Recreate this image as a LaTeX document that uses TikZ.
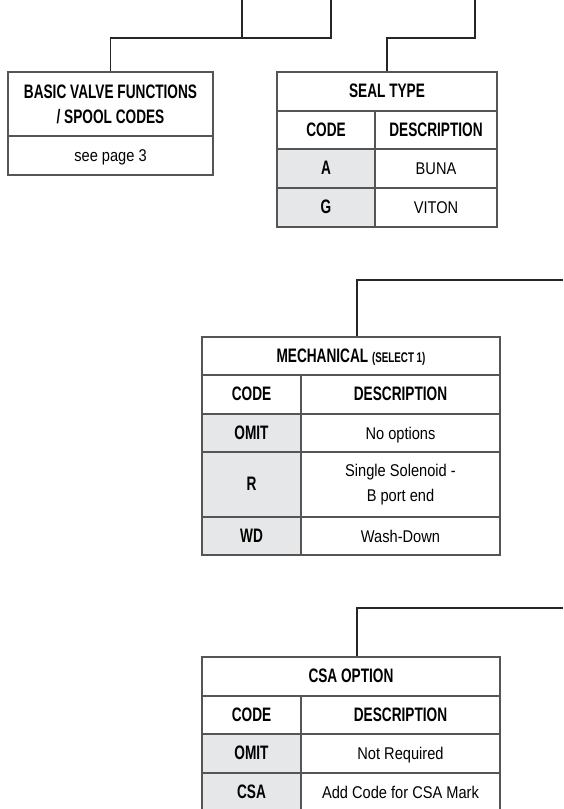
\documentclass[tikz,border=0pt]{standalone}
\usepackage{fontspec}
\setmainfont{Liberation Sans}[FakeStretch=0.86]
\newfontfamily\hdfont{Liberation Sans}[FakeStretch=0.70]
\definecolor{codegray}{HTML}{E6E7E8}
\definecolor{rulegray}{HTML}{555555}
\begin{document}
\begin{tikzpicture}[x=1pt,y=1pt,
  cell/.style={draw=rulegray, line width=1.1pt, inner sep=0pt, align=center, text height=12.5pt, text depth=0pt, font=\fontsize{17}{25}\selectfont},
  head/.style={cell, font=\hdfont\bfseries\fontsize{19.5}{25}\selectfont},
  codecell/.style={head, fill=codegray},
  twolines/.style={text height=, text depth=},
  wire/.style={draw=black!85, line width=1.1pt}]
\useasboundingbox (0,0) rectangle (563,-809);

% basic valve functions
\node[head, twolines, minimum width=205pt, minimum height=64pt] (basic) at (110.5,-104) {BASIC VALVE FUNCTIONS\\/ SPOOL CODES};
\node[cell, minimum width=205pt, minimum height=39pt] (basicref) at (110.5,-155.5) {see page 3};

% seal type
\node[head, minimum width=220pt, minimum height=39pt] (seal) at (387,-91.5) {SEAL TYPE};
\node[head, minimum width=98pt, minimum height=38pt] (sealcode) at (326,-130) {CODE};
\node[head, minimum width=122pt, minimum height=38pt] (sealdesc) at (436,-130) {DESCRIPTION};
\node[codecell, minimum width=98pt, minimum height=39pt] (sealA) at (326,-168.5) {A};
\node[cell, minimum width=122pt, minimum height=39pt] (sealAd) at (436,-168.5) {BUNA};
\node[codecell, minimum width=98pt, minimum height=39pt] (sealG) at (326,-207.5) {G};
\node[cell, minimum width=122pt, minimum height=39pt] (sealGd) at (436,-207.5) {VITON};

% mechanical
\node[head, minimum width=298pt, minimum height=38pt] (mech) at (351,-356) {MECHANICAL {\fontsize{14}{16}\selectfont(SELECT 1)}};
\node[head, minimum width=99pt, minimum height=39pt] (mechcode) at (251.5,-394.5) {CODE};
\node[head, minimum width=199pt, minimum height=39pt] (mechdesc) at (400.5,-394.5) {DESCRIPTION};
\node[codecell, minimum width=99pt, minimum height=38pt] (mechO) at (251.5,-433) {OMIT};
\node[cell, minimum width=199pt, minimum height=38pt] (mechOd) at (400.5,-433) {No options};
\node[codecell, minimum width=99pt, minimum height=65pt] (mechR) at (251.5,-484.5) {R};
\node[cell, twolines, minimum width=199pt, minimum height=65pt] (mechRd) at (400.5,-484.5) {Single Solenoid -\\B port end};
\node[codecell, minimum width=99pt, minimum height=38pt] (mechW) at (251.5,-536) {WD};
\node[cell, minimum width=199pt, minimum height=38pt] (mechWd) at (400.5,-536) {Wash-Down};

% csa option
\node[head, minimum width=298pt, minimum height=39pt] (csa) at (351,-676.5) {CSA OPTION};
\node[head, minimum width=99pt, minimum height=38pt] (csacode) at (251.5,-715) {CODE};
\node[head, minimum width=199pt, minimum height=38pt] (csadesc) at (400.5,-715) {DESCRIPTION};
\node[codecell, minimum width=99pt, minimum height=39pt] (csaO) at (251.5,-753.5) {OMIT};
\node[cell, minimum width=199pt, minimum height=39pt] (csaOd) at (400.5,-753.5) {Not Required};
\node[codecell, minimum width=99pt, minimum height=39pt] (csaC) at (251.5,-792.5) {CSA};
\node[cell, minimum width=199pt, minimum height=39pt] (csaCd) at (400.5,-792.5) {Add Code for CSA Mark};

% connectors
\coordinate (t1) at (242,0);
\coordinate (t2) at (331,0);
\coordinate (t3) at (475,0);
\coordinate (j1) at (242,-38);
\coordinate (j2) at (331,-38);
\coordinate (j3) at (475,-38);
\coordinate (m1) at (563,-280);
\coordinate (m2) at (357,-280);
\coordinate (c1) at (563,-608);
\coordinate (c2) at (357,-608);

\draw[wire] (t1) -- (j1);
\draw[wire] (t2) -- (j2) -- (basic.north |- j2) -- (basic.north);
\draw[wire] (t3) -- (j3) -- (seal.north |- j3) -- (seal.north);
\draw[wire] (m1) -- (m2) -- (m2 |- mech.north);
\draw[wire] (c1) -- (c2) -- (c2 |- csa.north);
\end{tikzpicture}
\end{document}
